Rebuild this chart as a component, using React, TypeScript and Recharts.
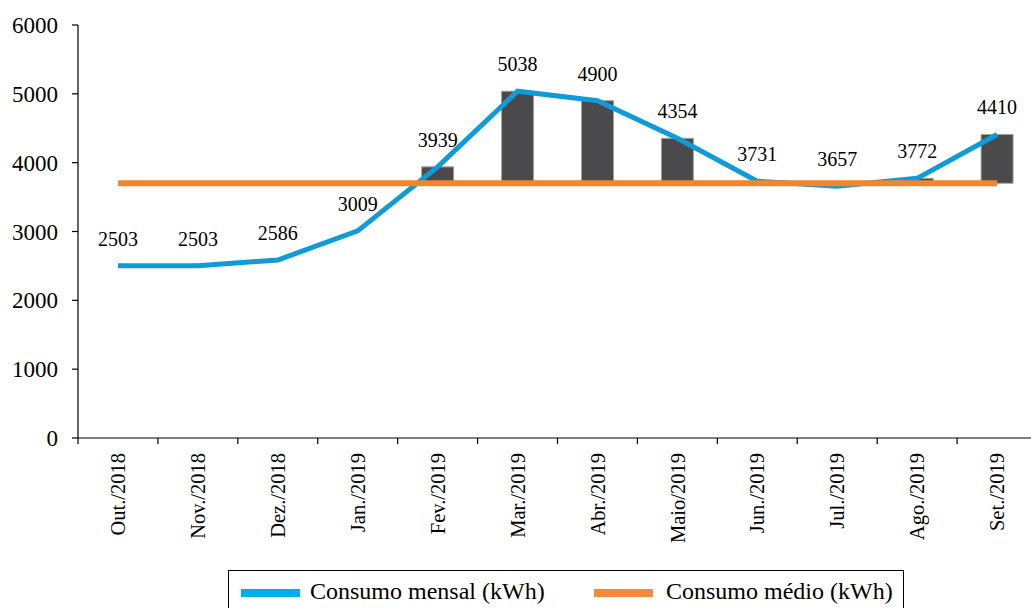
import React from 'react';
import { ComposedChart, Bar, Line, XAxis, YAxis, LabelList } from 'recharts';

const meses = [
  'Out./2018', 'Nov./2018', 'Dez./2018', 'Jan./2019', 'Fev./2019', 'Mar./2019',
  'Abr./2019', 'Maio/2019', 'Jun./2019', 'Jul./2019', 'Ago./2019', 'Set./2019',
];
const consumoMensal = [2503, 2503, 2586, 3009, 3939, 5038, 4900, 4354, 3731, 3657, 3772, 4410];
const consumoMedio = 3700;
const yTicks = [0, 1000, 2000, 3000, 4000, 5000, 6000];

const data = meses.map((mes, i) => ({
  mes,
  mensal: consumoMensal[i],
  medio: consumoMedio,
  // floating bar between the average and the monthly value when above average
  excesso: consumoMensal[i] > consumoMedio ? [consumoMedio, consumoMensal[i]] : null,
}));

const FONT = 'Liberation Serif';
const AZUL = '#0f9bd7';
const LARANJA = '#f0862f';

const CHART_W = 1045;
const CHART_H = 608;
const Y_AXIS_W = 78;
const MARGIN = { top: 25, right: 8, bottom: 0, left: 0 };
const PLOT_W = CHART_W - Y_AXIS_W - MARGIN.left - MARGIN.right;
const BAND = PLOT_W / meses.length;

function MesTick({ x, y, payload, index }: any) {
  const isLast = index === meses.length - 1;
  return (
    <g>
      <line x1={x - BAND / 2} x2={x - BAND / 2} y1={y - 6} y2={y} stroke="#000" strokeWidth={1.2} />
      {isLast && (
        <line x1={x + BAND / 2} x2={x + BAND / 2} y1={y - 6} y2={y} stroke="#000" strokeWidth={1.2} />
      )}
      <text
        transform={`translate(${x},${y + 9}) rotate(-90)`}
        textAnchor="end"
        dy="0.35em"
        style={{ fontFamily: FONT, fontSize: 20.5 }}
        fill="#000"
      >
        {payload.value}
      </text>
    </g>
  );
}

function ValorTick({ x, y, payload }: any) {
  return (
    <text x={x} y={y} dy="0.35em" textAnchor="end" fill="#000" style={{ fontFamily: FONT, fontSize: 23 }}>
      {payload.value}
    </text>
  );
}

function ValorLabel({ x, y, value }: any) {
  return (
    <text x={x} y={y - 20} textAnchor="middle" fill="#000" style={{ fontFamily: FONT, fontSize: 20 }}>
      {value}
    </text>
  );
}

function Legenda() {
  return (
    <div
      style={{
        position: 'absolute',
        left: 228,
        top: 570,
        width: 676,
        height: 60,
        border: '1.5px solid #000',
        boxSizing: 'border-box',
        fontFamily: FONT,
        fontSize: 24,
        color: '#000',
      }}
    >
      <div style={{ position: 'absolute', left: 12, top: 18, width: 59, height: 8, background: '#00aeef' }} />
      <div style={{ position: 'absolute', left: 81, top: 5, whiteSpace: 'nowrap', lineHeight: '30px' }}>
        Consumo mensal (kWh)
      </div>
      <div style={{ position: 'absolute', left: 365, top: 18, width: 59, height: 8, background: '#f58a3a' }} />
      <div style={{ position: 'absolute', left: 437, top: 5, whiteSpace: 'nowrap', lineHeight: '30px' }}>
        Consumo médio (kWh)
      </div>
    </div>
  );
}

export default function App() {
  return (
    <div
      style={{
        position: 'absolute',
        left: 0,
        top: 0,
        width: 1031,
        height: 608,
        overflow: 'hidden',
        background: '#fff',
        fontFamily: FONT,
      }}
    >
      <ComposedChart width={CHART_W} height={CHART_H} data={data} margin={MARGIN} style={{ fontFamily: FONT }}>
        <XAxis
          dataKey="mes"
          height={170}
          interval={0}
          tickLine={false}
          tickSize={6}
          tickMargin={0}
          axisLine={{ stroke: '#000', strokeWidth: 1.2 }}
          tick={<MesTick />}
        />
        <YAxis
          width={Y_AXIS_W}
          domain={[0, 6000]}
          ticks={yTicks}
          interval={0}
          tickSize={6}
          tickMargin={14}
          axisLine={{ stroke: '#000', strokeWidth: 1.2 }}
          tickLine={{ stroke: '#000', strokeWidth: 1.2 }}
          tick={<ValorTick />}
        />
        <Bar
          dataKey="excesso"
          fill="#4a4a4c"
          stroke="#a3a3a3"
          strokeWidth={1}
          barSize={32}
          isAnimationActive={false}
        />
        <Line
          type="linear"
          dataKey="mensal"
          stroke={AZUL}
          strokeWidth={5}
          dot={false}
          isAnimationActive={false}
        >
          <LabelList dataKey="mensal" content={<ValorLabel />} />
        </Line>
        <Line
          type="linear"
          dataKey="medio"
          stroke={LARANJA}
          strokeWidth={6}
          dot={false}
          isAnimationActive={false}
        />
      </ComposedChart>
      <Legenda />
    </div>
  );
}
